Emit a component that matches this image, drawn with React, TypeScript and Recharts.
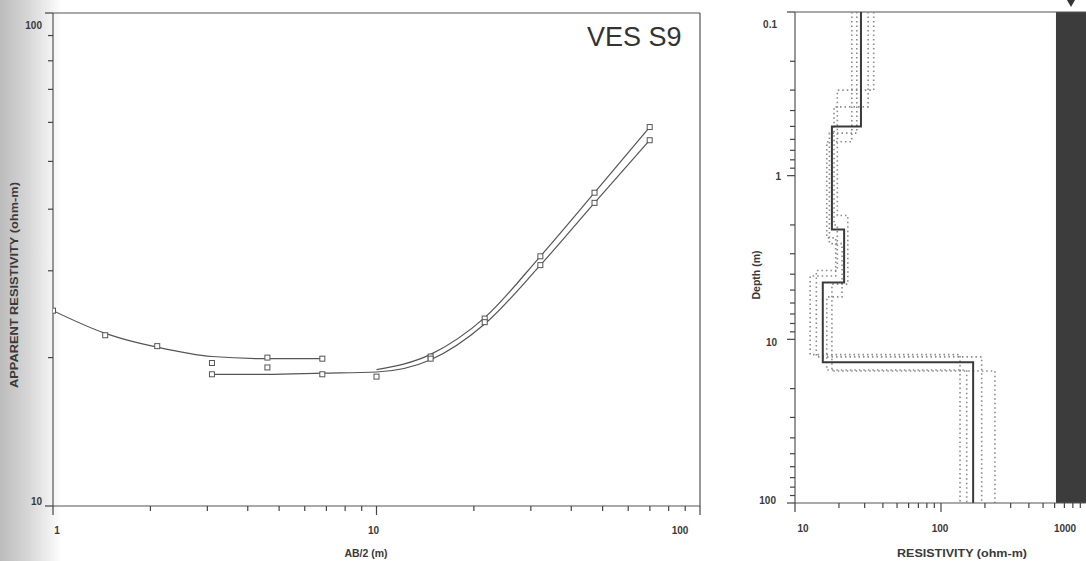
import React from "react";
import {
  ComposedChart,
  Line,
  Scatter,
  XAxis,
  YAxis,
  ReferenceLine,
  ReferenceArea,
} from "recharts";

// AB/2 spacings (m) of the sounding
const spacing = [1, 1.45, 2.1, 3.1, 4.6, 6.8, 10, 14.7, 21.6, 32.1, 47.2, 69.9];
// measured apparent resistivity (ohm-m), two overlapping segments
const rhoSegA = [24.9, 22.2, 21.1, 19.5, 20.0, 19.9, null, 20.1, 24.0, 32.1, 43.2, 58.7];
const rhoSegB = [null, null, null, 18.5, 19.1, 18.5, 18.3, 19.9, 23.6, 30.8, 41.2, 55.2];

// computed (model) curves
const fitAx = [1, 1.45, 2.1, 3.1, 4.6, 6.8];
const fitAy = [24.9, 22.4, 21.0, 20.1, 19.9, 19.9];
const fitBx = [3.1, 4.6, 6.8, 10, 14.7, 21.6, 32.1, 47.2, 69.9];
const fitBy = [18.5, 18.5, 18.6, 18.7, 19.8, 23.4, 30.8, 41.2, 55.2];
const fitCx = [10, 14.7, 21.6, 32.1, 47.2, 69.9];
const fitCy = [18.9, 20.3, 24.1, 32.1, 43.2, 58.7];

// layered model: resistivity (ohm-m) and layer top depth (m)
const modelRho = [28.3, 17.9, 21.7, 15.5, 166];
const modelTop = [0.1, 0.5, 2.13, 4.49, 13.8];
// equivalent models
const equivRho = [
  [24.5, 16.5, 19, 12.7, 135],
  [34.6, 19.5, 23, 17.9, 234],
  [31.7, 18.5, 19.5, 14, 190],
  [26.5, 17.2, 21, 16.5, 150],
];
const equivTop = [
  [0.1, 0.62, 2.4, 4.1, 12.4],
  [0.1, 0.3, 1.75, 4.6, 15.6],
  [0.1, 0.38, 2.0, 3.8, 12.8],
  [0.1, 0.55, 2.6, 5.5, 15.4],
];
const maxDepth = 100;
const columnRho = [613, 1000];

const rhoTicks = [10, 20, 30, 40, 50, 60, 70, 80, 90, 100];
const abTicks = [1, 2, 3, 4, 5, 6, 7, 8, 9, 10, 20, 30, 40, 50, 60, 70, 80, 90, 100];
const depthTicks = [
  0.1, 0.2, 0.3, 0.4, 0.5, 0.6, 0.7, 0.8, 0.9, 1, 2, 3, 4, 5, 6, 7, 8, 9, 10, 20,
  30, 40, 50, 60, 70, 80, 90, 100,
];
const resTicks = [
  10, 20, 30, 40, 50, 60, 70, 80, 90, 100, 200, 300, 400, 500, 600, 700, 800, 900, 1000,
];

const pairs = (xs: number[], ys: (number | null)[]) =>
  xs.map((x, i) => ({ x, y: ys[i] })).filter((d) => d.y != null);

const steps = (rho: number[], top: number[]) => {
  const pts: { res: number; depth: number }[] = [];
  rho.forEach((r, i) => {
    pts.push({ res: r, depth: top[i] });
    pts.push({ res: r, depth: i + 1 < top.length ? top[i + 1] : maxDepth });
  });
  return pts;
};

const INK = "#555";
const TXT = "#3a3a3a";
const FONT = "'Liberation Sans', Arial, sans-serif";
const isDecade = (v: number) => [0.1, 1, 10, 100, 1000].includes(v);

const Box = (props: any) => {
  const { cx, cy } = props;
  if (cx == null || cy == null) return null;
  return (
    <rect x={cx - 2.5} y={cy - 2.5} width={5} height={5} fill="#fff" stroke={INK} strokeWidth={1} />
  );
};

// vertical axis tick: mark to the left, optional label
const makeYTick = (labels: Record<string, [number, number]>) => (props: any) => {
  const x = Number(props.x);
  const y = Number(props.y);
  const v = props.payload.value;
  const len = isDecade(v) ? 8 : 5;
  const off = labels[String(v)];
  return (
    <g>
      <line x1={x - len} y1={y} x2={x} y2={y} stroke="#444" strokeWidth={1.2} />
      {off && (
        <text x={x + off[0]} y={y + off[1]} textAnchor="end" fontSize={10} fontWeight="bold" fill={TXT} fontFamily={FONT}>
          {v}
        </text>
      )}
    </g>
  );
};

// horizontal axis tick: mark below, optional label
const makeXTick = (labels: Record<string, [number, number]>) => (props: any) => {
  const x = Number(props.x);
  const y = Number(props.y);
  const v = props.payload.value;
  const len = isDecade(v) ? 9 : 5;
  const off = labels[String(v)];
  return (
    <g>
      <line x1={x} y1={y} x2={x} y2={y + len} stroke="#444" strokeWidth={1.2} />
      {off && (
        <text x={x + off[0]} y={y + off[1]} textAnchor="middle" fontSize={10} fontWeight="bold" fill={TXT} fontFamily={FONT}>
          {v}
        </text>
      )}
    </g>
  );
};

const LeftYTick = makeYTick({ "10": [-11, -1], "100": [-11, 16] });
const LeftXTick = makeXTick({ "1": [4, 28], "10": [-3, 28], "100": [-20, 28] });
const RightYTick = makeYTick({ "0.1": [-18, 16], "1": [-14, 4], "10": [-18, 7], "100": [-19, 1] });
const RightXTick = makeXTick({ "10": [8, 29], "100": [-1, 29], "1000": [-22, 29] });

export default function App() {
  const measA = pairs(spacing, rhoSegA);
  const measB = pairs(spacing, rhoSegB);
  const model = steps(modelRho, modelTop);
  const equivs = equivRho.map((r, i) => steps(r, equivTop[i]));

  return (
    <div
      style={{
        position: "absolute",
        left: 0,
        top: 0,
        width: 1086,
        height: 561,
        overflow: "hidden",
        background: "#fff",
        fontFamily: FONT,
      }}
    >
      <div
        style={{
          position: "absolute",
          left: 0,
          top: 0,
          width: 62,
          height: 561,
          background: "linear-gradient(to right, #bcbcbc, #d6d6d6 45%, rgba(255,255,255,0) 100%)",
        }}
      />

      <div style={{ position: "absolute", left: 0, top: 0 }}>
        <ComposedChart width={720} height={561} margin={{ top: 13, right: 20, bottom: 0, left: 0 }}>
          <XAxis
            dataKey="x"
            type="number"
            scale="log"
            domain={[1, 100]}
            ticks={abTicks}
            interval={0}
            height={55}
            tickSize={0}
            tickMargin={0}
            tickLine={false}
            tick={LeftXTick}
            axisLine={{ stroke: INK, strokeWidth: 1.2 }}
            allowDataOverflow
          />
          <YAxis
            dataKey="y"
            type="number"
            scale="log"
            domain={[10, 100]}
            ticks={rhoTicks}
            interval={0}
            width={53}
            tickSize={0}
            tickMargin={0}
            tickLine={false}
            tick={LeftYTick}
            axisLine={{ stroke: INK, strokeWidth: 1.2 }}
            allowDataOverflow
          />
          <ReferenceLine y={100} stroke={INK} strokeWidth={1.2} />
          <ReferenceLine x={100} stroke={INK} strokeWidth={1.2} />
          <Line data={pairs(fitAx, fitAy)} dataKey="y" type="monotone" stroke={INK} strokeWidth={1.2} dot={false} isAnimationActive={false} />
          <Line data={pairs(fitBx, fitBy)} dataKey="y" type="monotone" stroke={INK} strokeWidth={1.2} dot={false} isAnimationActive={false} />
          <Line data={pairs(fitCx, fitCy)} dataKey="y" type="monotone" stroke={INK} strokeWidth={1.2} dot={false} isAnimationActive={false} />
          <Scatter data={measA} dataKey="y" shape={<Box />} isAnimationActive={false} />
          <Scatter data={measB} dataKey="y" shape={<Box />} isAnimationActive={false} />
        </ComposedChart>
      </div>

      <div style={{ position: "absolute", left: 740, top: 0, width: 346, overflow: "hidden" }}>
        <ComposedChart width={347} height={561} margin={{ top: 12, right: 0, bottom: 0, left: 0 }}>
          <XAxis
            dataKey="res"
            type="number"
            scale="log"
            domain={[10, 1000]}
            ticks={resTicks}
            interval={0}
            height={58}
            tickSize={0}
            tickMargin={0}
            tickLine={false}
            tick={RightXTick}
            axisLine={{ stroke: INK, strokeWidth: 1.2 }}
            allowDataOverflow
          />
          <YAxis
            dataKey="depth"
            type="number"
            scale="log"
            domain={[0.1, 100]}
            reversed
            ticks={depthTicks}
            interval={0}
            width={55}
            tickSize={0}
            tickMargin={0}
            tickLine={false}
            tick={RightYTick}
            axisLine={{ stroke: INK, strokeWidth: 1.2 }}
            allowDataOverflow
          />
          <ReferenceLine y={0.1} stroke={INK} strokeWidth={1.2} />
          <ReferenceArea
            x1={columnRho[0]}
            x2={columnRho[1]}
            y1={0.1}
            y2={100}
            fill="#3c3c3c"
            fillOpacity={1}
            stroke="none"
          />
          {equivs.map((d, i) => (
            <Line
              key={i}
              data={d}
              dataKey="depth"
              type="linear"
              stroke="#8a8a8a"
              strokeWidth={1.6}
              strokeDasharray="1.5 3"
              dot={false}
              isAnimationActive={false}
            />
          ))}
          <Line data={model} dataKey="depth" type="linear" stroke="#3a3a3a" strokeWidth={2} dot={false} isAnimationActive={false} />
        </ComposedChart>
      </div>

      <svg
        width={1086}
        height={561}
        style={{ position: "absolute", left: 0, top: 0, pointerEvents: "none" }}
        fontFamily={FONT}
        fontWeight="bold"
        fill={TXT}
      >
        <text x={587} y={46} fontSize={27} fontWeight="normal" fill="#333">
          VES S9
        </text>
        <text
          transform="translate(18,285) rotate(-90)"
          textAnchor="middle"
          fontSize={10.5}
          textLength={206}
          lengthAdjust="spacingAndGlyphs"
        >
          APPARENT RESISTIVITY (ohm-m)
        </text>
        <text x={366} y={557} textAnchor="middle" fontSize={10.5}>
          AB/2 (m)
        </text>
        <text transform="translate(760,275) rotate(-90)" textAnchor="middle" fontSize={10.5}>
          Depth (m)
        </text>
        <text x={962} y={557} textAnchor="middle" fontSize={10.5} textLength={130} lengthAdjust="spacingAndGlyphs">
          RESISTIVITY (ohm-m)
        </text>
        <path d="M1067,0 L1075,0 L1071,7 Z" fill="#333" />
      </svg>
    </div>
  );
}
